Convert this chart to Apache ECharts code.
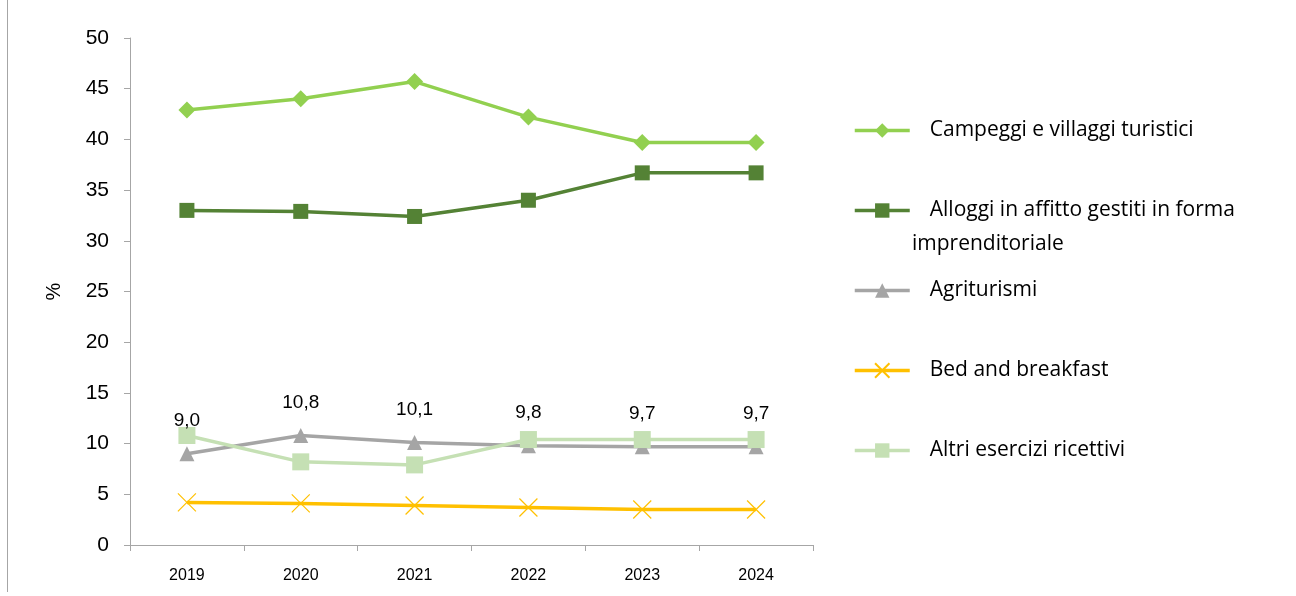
<!DOCTYPE html>
<html>
<head>
<meta charset="utf-8">
<script src="https://cdn.jsdelivr.net/npm/echarts@6/dist/echarts.min.js"></script>
<style>
html,body{margin:0;padding:0;background:#fff;}
#chart{width:1296px;height:596px;}
</style>
</head>
<body>
<div id="chart"></div>
<script>
const years = ['2019','2020','2021','2022','2023','2024'];
const campeggi = [42.9, 44.0, 45.7, 42.2, 39.7, 39.7];
const alloggi = [33.0, 32.9, 32.4, 34.0, 36.7, 36.7];
const agriturismi = [9.0, 10.8, 10.1, 9.8, 9.7, 9.7];
const bedBreakfast = [4.2, 4.1, 3.9, 3.7, 3.5, 3.5];
const altri = [10.8, 8.2, 7.9, 10.4, 10.4, 10.4];
const seriesNames = ['Campeggi e villaggi turistici', 'Alloggi in affitto gestiti in forma imprenditoriale', 'Agriturismi', 'Bed and breakfast', 'Altri esercizi ricettivi'];

const FONT = 'Liberation Sans';
const LFONT = 'Open Sans';
const chart = echarts.init(document.getElementById('chart'));
const crossPath = 'path://M0,0L10,10M10,0L0,10';

function mkLegend(name, top, fmt) {
  return {
    data: [name], left: 853, top: top, orient: 'vertical', padding: 0,
    itemWidth: 55, itemHeight: 18, itemGap: 0,
    lineStyle: {width: 3.5},
    textStyle: {fontFamily: LFONT, fontSize: 21, color: '#000', padding: [0,0,0,15]},
    formatter: fmt || (n => n),
    selectedMode: false
  };
}

chart.setOption({
  animation: false,
  backgroundColor: '#fff',
  grid: {left: 130, right: 483, top: 38, bottom: 51, containLabel: false},
  graphic: [
    {type: 'line', shape: {x1: 7.5, y1: 0, x2: 7.5, y2: 592}, style: {stroke: '#a6a6a6', lineWidth: 1}},
    {type: 'text', left: 912, top: 234, style: {text: 'imprenditoriale', fontFamily: LFONT, fontSize: 21, fill: '#000'}}
  ],
  legend: [
    mkLegend(seriesNames[0], 120),
    mkLegend(seriesNames[1], 200, n => 'Alloggi in affitto gestiti in forma'),
    mkLegend(seriesNames[2], 280),
    mkLegend(seriesNames[3], 360),
    mkLegend(seriesNames[4], 440)
  ],
  xAxis: {
    type: 'category', data: years, boundaryGap: true,
    axisLine: {lineStyle: {color: '#a6a6a6', width: 1}},
    axisTick: {show: true, length: 6, lineStyle: {color: '#a6a6a6'}},
    axisLabel: {fontFamily: FONT, fontSize: 16, color: '#000', margin: 23}
  },
  yAxis: {
    type: 'value', min: 0, max: 50, interval: 5,
    name: '%', nameLocation: 'middle', nameGap: 66, nameRotate: 90,
    nameTextStyle: {fontFamily: FONT, fontSize: 20, color: '#000'},
    axisLine: {show: true, lineStyle: {color: '#a6a6a6', width: 1}},
    axisTick: {show: true, length: 6, lineStyle: {color: '#a6a6a6'}},
    splitLine: {show: false},
    axisLabel: {fontFamily: FONT, fontSize: 21, color: '#000', margin: 21}
  },
  series: [
    {name: seriesNames[0], type: 'line', data: campeggi, color: '#92D050',
     symbol: 'diamond', symbolSize: 17, lineStyle: {width: 3.5}},
    {name: seriesNames[1], type: 'line', data: alloggi, color: '#548235',
     symbol: 'rect', symbolSize: 15, lineStyle: {width: 3.5}},
    {name: seriesNames[2], type: 'line', data: agriturismi, color: '#A5A5A5',
     symbol: 'triangle', symbolSize: 15, lineStyle: {width: 3.5},
     label: {show: true, position: 'top', distance: 16, fontFamily: FONT, fontSize: 19, color: '#000',
       formatter: p => p.value.toFixed(1).replace('.', ',')}},
    {name: seriesNames[3], type: 'line', data: bedBreakfast, color: '#FFC000',
     symbol: crossPath, symbolSize: 18, lineStyle: {width: 3.5},
     itemStyle: {color: '#FFC000', borderColor: '#FFC000', borderWidth: 1.2}},
    {name: seriesNames[4], type: 'line', data: altri, color: '#C5E0B4',
     symbol: 'rect', symbolSize: 17, lineStyle: {width: 3.5}}
  ]
});
</script>
</body>
</html>
